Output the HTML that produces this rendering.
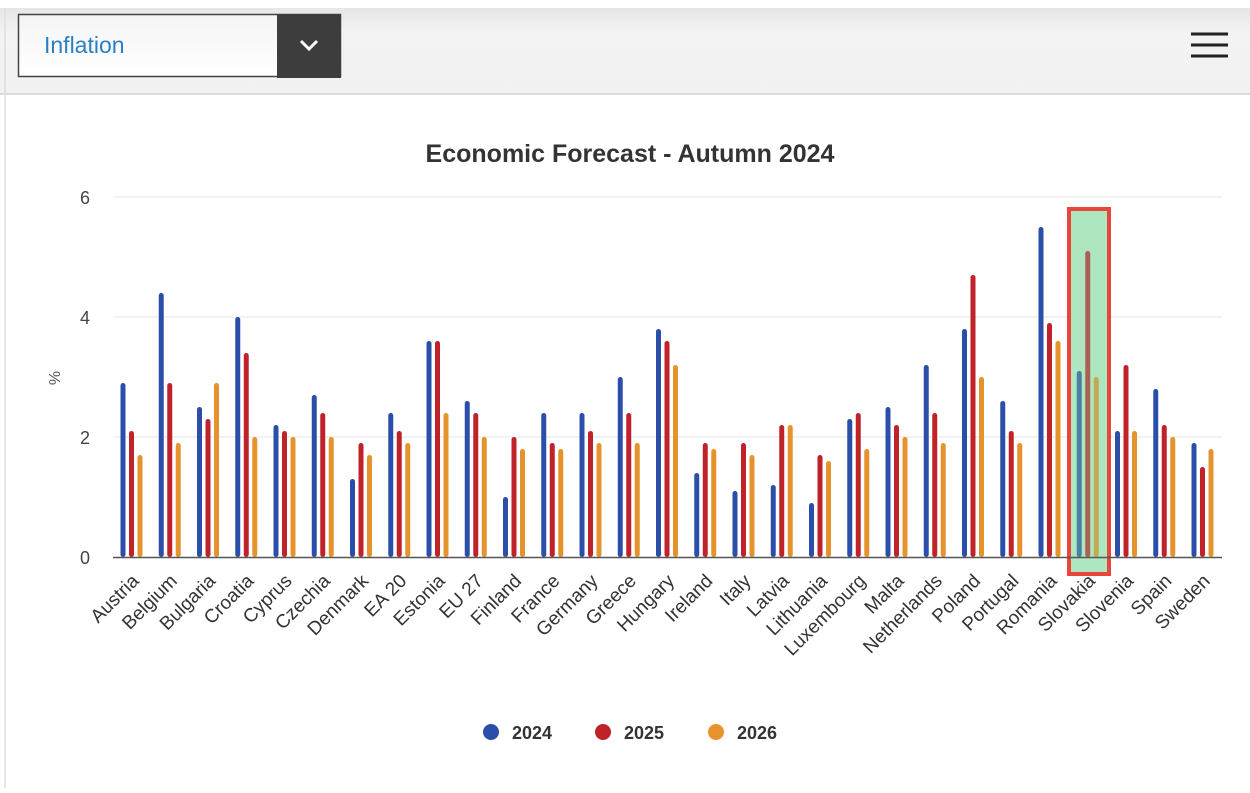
<!DOCTYPE html>
<html><head><meta charset="utf-8"><style>
body{margin:0;width:1250px;height:788px;background:#fff;overflow:hidden;font-family:"Liberation Sans",Arial,sans-serif}
</style></head><body>
<svg width="1250" height="788" xmlns="http://www.w3.org/2000/svg" font-family="Liberation Sans, Arial, sans-serif">
<defs><linearGradient id="tb" x1="0" y1="0" x2="0" y2="1"><stop offset="0" stop-color="#e6e6e6"/><stop offset="0.3" stop-color="#f3f3f3"/><stop offset="1" stop-color="#f1f1f1"/></linearGradient>
<linearGradient id="dd" x1="0" y1="0" x2="0" y2="1"><stop offset="0" stop-color="#f4f4f4"/><stop offset="1" stop-color="#fff"/></linearGradient></defs>
<rect x="0" y="8" width="1250" height="86" fill="url(#tb)"/>
<line x1="0" y1="94" x2="1250" y2="94" stroke="#dcdcdc" stroke-width="2"/>
<line x1="5" y1="8" x2="5" y2="788" stroke="#dedede" stroke-width="1.5"/>
<rect x="18.5" y="14.5" width="322" height="62" fill="url(#dd)" stroke="#444" stroke-width="1.5"/>
<rect x="277" y="14" width="64" height="64" fill="#3d3d3d"/>
<polyline points="301,41 309,49 317,41" fill="none" stroke="#fff" stroke-width="3"/>
<text x="44" y="53" font-size="23" fill="#2a7fc6">Inflation</text>
<g stroke="#222" stroke-width="3"><line x1="1191" y1="34" x2="1228" y2="34"/><line x1="1191" y1="45" x2="1228" y2="45"/><line x1="1191" y1="56" x2="1228" y2="56"/></g>
<text x="630" y="162" font-size="25" font-weight="bold" text-anchor="middle" fill="#333">Economic Forecast - Autumn 2024</text>
<g stroke="#e4e4e4" stroke-width="1"><line x1="113" y1="197" x2="1222" y2="197"/><line x1="113" y1="317" x2="1222" y2="317"/><line x1="113" y1="437" x2="1222" y2="437"/></g>
<g font-size="18" fill="#444" text-anchor="end"><text x="90" y="204">6</text><text x="90" y="324">4</text><text x="90" y="444">2</text><text x="90" y="564">0</text></g>
<text transform="translate(60,378) rotate(-90)" font-size="16" fill="#555" text-anchor="middle">%</text>
<rect x="1069" y="209" width="40" height="365" fill="#c6eed2"/>
<g id="bars"></g>
<rect x="1069" y="209" width="40" height="365" fill="rgba(130,215,160,0.35)" stroke="#e8463c" stroke-width="4"/>
<line x1="113" y1="557.5" x2="1222" y2="557.5" stroke="#555" stroke-width="1.5"/>
<g id="labels" font-size="19" fill="#333" text-anchor="end"></g>
<g font-size="18" font-weight="bold" fill="#333">
<circle cx="491" cy="732" r="8" fill="#2b4fa8"/><text x="512" y="739">2024</text>
<circle cx="603" cy="732" r="8" fill="#c0222a"/><text x="624" y="739">2025</text>
<circle cx="716" cy="732" r="8" fill="#e6932e"/><text x="737" y="739">2026</text>
</g>
</svg>
<script>
var d=[["Austria",2.9,2.1,1.7],["Belgium",4.4,2.9,1.9],["Bulgaria",2.5,2.3,2.9],["Croatia",4.0,3.4,2.0],["Cyprus",2.2,2.1,2.0],["Czechia",2.7,2.4,2.0],["Denmark",1.3,1.9,1.7],["EA 20",2.4,2.1,1.9],["Estonia",3.6,3.6,2.4],["EU 27",2.6,2.4,2.0],["Finland",1.0,2.0,1.8],["France",2.4,1.9,1.8],["Germany",2.4,2.1,1.9],["Greece",3.0,2.4,1.9],["Hungary",3.8,3.6,3.2],["Ireland",1.4,1.9,1.8],["Italy",1.1,1.9,1.7],["Latvia",1.2,2.2,2.2],["Lithuania",0.9,1.7,1.6],["Luxembourg",2.3,2.4,1.8],["Malta",2.5,2.2,2.0],["Netherlands",3.2,2.4,1.9],["Poland",3.8,4.7,3.0],["Portugal",2.6,2.1,1.9],["Romania",5.5,3.9,3.6],["Slovakia",3.1,5.1,3.0],["Slovenia",2.1,3.2,2.1],["Spain",2.8,2.2,2.0],["Sweden",1.9,1.5,1.8]];
var c=["#2b4fa8","#c0222a","#e6932e"],ns="http://www.w3.org/2000/svg",b=document.getElementById("bars"),l=document.getElementById("labels");
d.forEach(function(r,i){var x0=113+i*38.25;for(var k=0;k<3;k++){var v=r[k+1],x=x0+10+k*8.5,y=557-v*60;var p=document.createElementNS(ns,"rect");p.setAttribute("x",x-2.5);p.setAttribute("y",y);p.setAttribute("width",5);p.setAttribute("height",557-y);p.setAttribute("rx",2.5);p.setAttribute("fill",c[k]);b.appendChild(p);}
var t=document.createElementNS(ns,"text");var cx=x0+27,cy=582;t.setAttribute("transform","translate("+cx+","+cy+") rotate(-45)");t.textContent=r[0];l.appendChild(t);});
</script>
</body></html>
